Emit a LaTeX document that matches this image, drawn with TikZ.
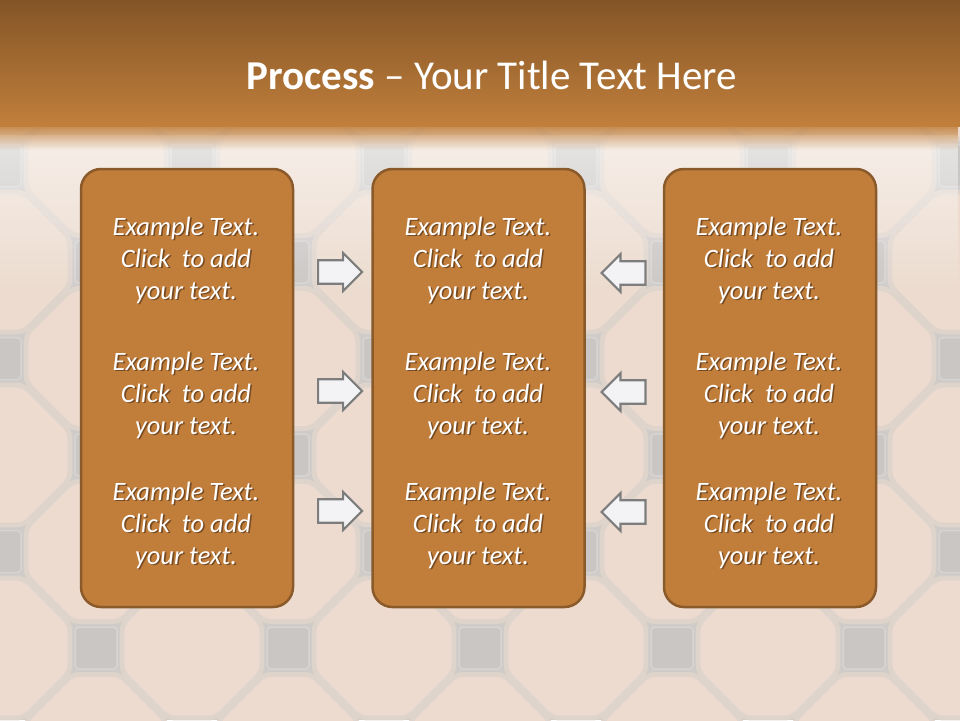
\documentclass[tikz,border=0pt]{standalone}
\usepackage{fontspec}
\setmainfont{Carlito}
\usetikzlibrary{shapes.arrows,positioning,fadings}

\definecolor{bandtop}{RGB}{131,85,38}
\definecolor{bandbot}{RGB}{193,127,60}
\definecolor{tilegap}{RGB}{207,203,201}
\definecolor{tilepeach}{RGB}{236,219,206}
\definecolor{tilesq}{RGB}{201,198,196}
\definecolor{boxfill}{RGB}{193,126,59}
\definecolor{boxedge}{RGB}{139,90,42}
\definecolor{shadowbrown}{RGB}{118,74,34}
\definecolor{arrowfill}{RGB}{243,243,246}
\definecolor{arrowedge}{RGB}{125,125,125}

% text with a small drop shadow
\newcommand{\shadowed}[1]{\makebox[0pt][l]{\hspace{1.6pt}\raisebox{-1.6pt}{\color{shadowbrown}#1}}#1}
\newcommand{\boxtext}{\shadowed{Example Text.}\\\shadowed{Click~ to add}\\\shadowed{your text.}}

\begin{document}
\begin{tikzpicture}[
    x=1pt,y=-1pt,
    colbox/.style={rectangle,draw=boxedge,fill=boxfill,line width=2.5pt,rounded corners=20pt,
                   minimum width=212pt,minimum height=438pt},
    boxtxt/.style={text=white,align=center,font=\fontsize{26.5}{32}\selectfont\itshape},
    rarr/.style={single arrow,draw=arrowedge,fill=arrowfill,line width=2.2pt,inner sep=5.5pt,
                 minimum height=44pt,minimum width=38pt,single arrow head extend=4pt},
    larr/.style={rarr,shape border rotate=180}
]
\useasboundingbox (0,0) rectangle (960,720);

% tiled floor
\fill[tilegap] (0,0) rectangle (960,720);
\foreach \b in {-1,...,7}{
  \foreach \a in {-1,...,11}{
    \pgfmathtruncatemacro{\odd}{mod(\a+\b+20,2)}
    \pgfmathsetmacro{\tx}{96*\a}
    \pgfmathsetmacro{\ty}{648-96.5*\b}
    \ifnum\odd=0
      \fill[tilepeach!55!tilegap,rounded corners=7pt,shift={(\tx,\ty)},scale=1.05]
        (69,23) -- (23,69) -- (-23,69) -- (-69,23) -- (-69,-23) -- (-23,-69) -- (23,-69) -- (69,-23) -- cycle;
      \fill[tilepeach,rounded corners=7pt,shift={(\tx,\ty)},scale=0.98]
        (69,23) -- (23,69) -- (-23,69) -- (-69,23) -- (-69,-23) -- (-23,-69) -- (23,-69) -- (69,-23) -- cycle;
    \else
      \filldraw[fill=tilesq,draw=white!25!tilesq,line width=1.5pt,rounded corners=4pt]
        (\tx-21,\ty-21) rectangle (\tx+21,\ty+21);
    \fi
  }
}
\fill[white,opacity=0.55,path fading=south] (0,135) rectangle (960,300);

% title band
\shade[top color=bandtop,bottom color=bandbot] (0,0) rectangle (960,126);
\fill[bandbot,path fading=south] (0,122) rectangle (960,150);
\node[text=white,font=\fontsize{41}{48}\selectfont] (title) at (492,75) {\textbf{Process} -- Your Title Text Here};

% columns
\node[colbox] (colA) at (187,388) {};
\node[colbox,right=77pt of colA] (colB) {};
\node[colbox,right=77pt of colB] (colC) {};

\node[boxtxt] (a1) at (186,261) {\boxtext};
\node[boxtxt] (a2) at (186,396) {\boxtext};
\node[boxtxt] (a3) at (186,526) {\boxtext};
\node[boxtxt] (b1) at (478,261) {\boxtext};
\node[boxtxt] (b2) at (478,396) {\boxtext};
\node[boxtxt] (b3) at (478,526) {\boxtext};
\node[boxtxt] (c1) at (769,261) {\boxtext};
\node[boxtxt] (c2) at (769,396) {\boxtext};
\node[boxtxt] (c3) at (769,526) {\boxtext};

% block arrows
\node[rarr,anchor=tail] (ab1) at (317,272) {};
\node[rarr,anchor=tail] (ab2) at (317,391) {};
\node[rarr,anchor=tail] (ab3) at (317,511) {};
\node[larr,anchor=tip] (cb1) at (600,273) {};
\node[larr,anchor=tip] (cb2) at (600,392) {};
\node[larr,anchor=tip] (cb3) at (600,512) {};
\end{tikzpicture}
\end{document}
